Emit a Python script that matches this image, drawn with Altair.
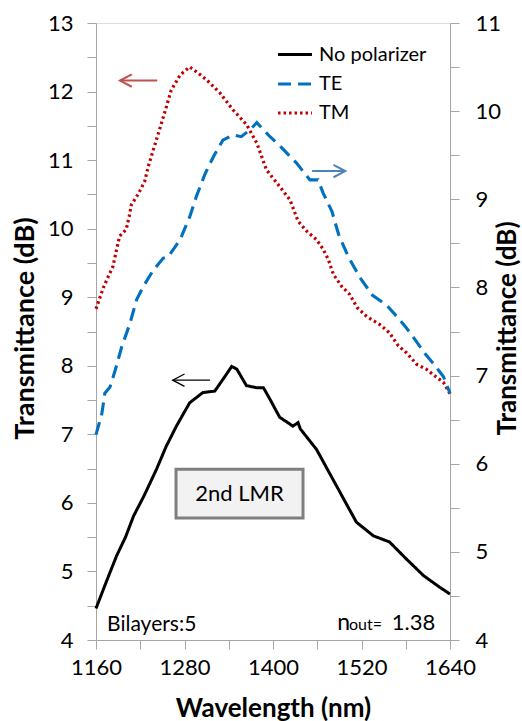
import altair as alt
import pandas as pd

# ---- data ----
wl_np = [1160, 1174, 1188, 1200, 1211, 1225, 1242, 1255, 1269, 1287, 1305, 1321, 1332, 1344,
         1351, 1364, 1378, 1387, 1396, 1409, 1427, 1434, 1437, 1459, 1486, 1513, 1536, 1558,
         1581, 1604, 1613, 1626, 1640]
val_np = [4.46, 4.85, 5.23, 5.50, 5.81, 6.10, 6.49, 6.82, 7.12, 7.46, 7.61, 7.63, 7.80, 7.99,
          7.95, 7.71, 7.68, 7.68, 7.51, 7.25, 7.12, 7.17, 7.08, 6.78, 6.25, 5.72, 5.52, 5.43,
          5.18, 4.94, 4.87, 4.77, 4.67]

wl_tm = [1160, 1170, 1177, 1183, 1188, 1192, 1201, 1205, 1208, 1217, 1226, 1231, 1242, 1253,
         1262, 1274, 1287, 1296, 1310, 1328, 1346, 1364, 1378, 1391, 1405, 1423, 1434, 1446,
         1459, 1468, 1475, 1482, 1493, 1504, 1514, 1527, 1545, 1558, 1570, 1581, 1595, 1608,
         1622, 1631, 1640]
val_tm = [8.83, 9.14, 9.31, 9.45, 9.70, 9.89, 9.99, 10.18, 10.35, 10.50, 10.69, 10.91, 11.30, 11.69,
          12.02, 12.24, 12.36, 12.29, 12.17, 11.98, 11.73, 11.52, 11.25, 10.86, 10.67, 10.42, 10.11, 9.96,
          9.84, 9.70, 9.55, 9.33, 9.16, 9.04, 8.85, 8.72, 8.60, 8.48, 8.29, 8.19, 8.02, 7.95,
          7.83, 7.76, 7.59]

wl_te = [1160, 1168, 1172, 1179, 1186, 1195, 1206, 1215, 1224, 1238, 1251, 1258, 1274, 1287,
         1296, 1308, 1319, 1332, 1346, 1357, 1369, 1378, 1396, 1410, 1432, 1450, 1461, 1468,
         1480, 1489, 1502, 1518, 1535, 1554, 1569, 1581, 1595, 1606, 1617, 1631, 1640]
val_te = [6.33, 6.57, 6.80, 6.87, 7.06, 7.33, 7.59, 7.86, 8.01, 8.20, 8.33, 8.35, 8.54, 8.80,
          9.03, 9.29, 9.48, 9.67, 9.73, 9.71, 9.79, 9.87, 9.71, 9.60, 9.41, 9.22, 9.22, 9.07,
          8.86, 8.60, 8.35, 8.11, 7.91, 7.80, 7.66, 7.54, 7.38, 7.25, 7.14, 6.99, 6.80]

series_names = ["No polarizer", "TE", "TM"]
series_colors = ["#000000", "#0070C0", "#C00000"]
series_dash = [[1, 0], [13, 7], [2.5, 3]]
series_width = [3, 3.2, 2.6]

x_ticks = list(range(1160, 1641, 60))
y_left_ticks = [4 + 0.5 * i for i in range(19)]
y_right_ticks = [4 + 0.5 * i for i in range(15)]

# annotations (data coordinates on the left axis)
arrow_tip = [1192.5, 1498.0, 1264.0]
arrow_tail = [1243.0, 1453.0, 1314.6]
arrow_val = [12.16, 10.84, 7.79]
arrow_colors = ["#C0504D", "#4F81BD", "#000000"]
arrow_widths = [2.0, 2.0, 1.3]

box_wl = [1268.5, 1440.7]
box_val = [5.78, 6.49]
box_label = "2nd LMR"

note_wl = [1175, 1487, 1503, 1561]
note_val = [4.13, 4.14, 4.14, 4.14]
note_text = ["Bilayers:5", "n", "out=", "1.38"]
note_size = [21, 23, 16, 22]

FONT = "Lato"
GREY = "#A6A6A6"
INT_LABEL = "datum.value % 1 == 0 ? '' + datum.value : ''"

# ---- tables ----
left_df = pd.concat([
    pd.DataFrame({"wl": wl_np, "val": val_np, "series": "No polarizer"}),
    pd.DataFrame({"wl": wl_tm, "val": val_tm, "series": "TM"}),
])
right_df = pd.DataFrame({"wl": wl_te, "val": val_te, "series": "TE"})

x_scale = alt.Scale(domain=[1160, 1640], nice=False, zero=False)
yl_scale = alt.Scale(domain=[4, 13], nice=False, zero=False)
yr_scale = alt.Scale(domain=[4, 11], nice=False, zero=False)


def make_legend():
    return alt.Legend(title=None, orient="none", legendX=180, legendY=13,
                      symbolType="stroke", symbolSize=1150, symbolStrokeWidth=2.6,
                      labelFont=FONT, labelFontSize=20, labelColor="#000000",
                      labelOffset=5, rowPadding=-2)


color_enc = alt.Color("series:N", scale=alt.Scale(domain=series_names, range=series_colors),
                      legend=make_legend())
dash_enc = alt.StrokeDash("series:N", scale=alt.Scale(domain=series_names, range=series_dash),
                          legend=make_legend())
width_enc = alt.StrokeWidth("series:N", scale=alt.Scale(domain=series_names, range=series_width),
                            legend=None)

x_axis = alt.Axis(values=x_ticks, labelExpr="(datum.value - 1160) % 120 == 0 ? '' + datum.value : ''",
                  title="Wavelength (nm)", grid=False, tickSize=9, tickColor=GREY,
                  domainColor=GREY, labelFont=FONT, labelFontSize=22, labelColor="#000000",
                  labelPadding=8, labelOverlap=False, labelFlush=False, labelBound=False,
                  titleFont=FONT, titleFontSize=26,
                  titleFontWeight="bold", titleColor="#000000", titleX=177, titleY=68,
                  titleBaseline="middle", titleAlign="center")

yl_axis = alt.Axis(values=y_left_ticks, labelExpr=INT_LABEL,
                   title="Transmittance (dB)", grid=False, tickSize=9, tickColor=GREY,
                   domainColor=GREY, labelFont=FONT, labelFontSize=22, labelColor="#000000",
                   labelPadding=14, labelOverlap=False, labelFlush=False, titleFont=FONT,
                   titleFontSize=27,
                   titleFontWeight="bold", titleColor="#000000", titleAngle=270,
                   titleX=-71, titleY=305, titleBaseline="middle", titleAlign="center")

yr_axis = alt.Axis(values=y_right_ticks, labelExpr=INT_LABEL,
                   orient="right", title="Transmittance (dB)", grid=False, tickSize=9,
                   tickColor=GREY, domainColor=GREY, labelFont=FONT, labelFontSize=22,
                   labelColor="#000000", labelPadding=16, labelOverlap=False, labelFlush=False,
                   titleFont=FONT,
                   titleFontSize=26, titleFontWeight="bold", titleColor="#000000",
                   titleAngle=270, titleX=57, titleY=305, titleBaseline="middle",
                   titleAlign="center")


def xenc(field="wl:Q"):
    return alt.X(field, scale=x_scale, axis=x_axis)


left_lines = alt.Chart(left_df).mark_line().encode(
    x=xenc(),
    y=alt.Y("val:Q", scale=yl_scale, axis=yl_axis),
    color=color_enc, strokeDash=dash_enc, strokeWidth=width_enc,
    detail="series:N",
)

right_lines = alt.Chart(right_df).mark_line().encode(
    x=xenc(),
    y=alt.Y("val:Q", scale=yr_scale, axis=yr_axis),
    color=color_enc, strokeDash=dash_enc, strokeWidth=width_enc,
)

# arrows
arrow_layers = []
for i in range(len(arrow_tip)):
    tip, tail, v = arrow_tip[i], arrow_tail[i], arrow_val[i]
    back = 16.0 if tail > tip else -16.0
    rows = [
        {"wl": tail, "val": v, "part": "shaft", "o": 0},
        {"wl": tip, "val": v, "part": "shaft", "o": 1},
        {"wl": tip + back, "val": v + 0.09, "part": "head", "o": 0},
        {"wl": tip, "val": v, "part": "head", "o": 1},
        {"wl": tip + back, "val": v - 0.09, "part": "head", "o": 2},
    ]
    arrow_layers.append(
        alt.Chart(pd.DataFrame(rows)).mark_line(color=arrow_colors[i], strokeWidth=arrow_widths[i]).encode(
            x=xenc(),
            y=alt.Y("val:Q", scale=yl_scale, axis=None),
            detail="part:N", order="o:Q",
        )
    )

box = alt.Chart(pd.DataFrame({"wl": [box_wl[0]], "x2": [box_wl[1]],
                              "y1": [box_val[0]], "y2": [box_val[1]]})).mark_rect(
    fill="#F2F2F2", stroke="#7F7F7F", strokeWidth=3).encode(
    x=xenc(), x2="x2:Q",
    y=alt.Y("y1:Q", scale=yl_scale, axis=None), y2="y2:Q",
)

box_text = alt.Chart(pd.DataFrame({"wl": [sum(box_wl) / 2], "val": [sum(box_val) / 2],
                                   "t": [box_label]})).mark_text(
    font=FONT, fontSize=22, color="#000000", align="center", baseline="middle").encode(
    x=xenc(), y=alt.Y("val:Q", scale=yl_scale, axis=None),
    text="t:N",
)

note_layers = []
for i in range(len(note_text)):
    note_layers.append(
        alt.Chart(pd.DataFrame({"wl": [note_wl[i]], "val": [note_val[i]], "t": [note_text[i]]})).mark_text(
            font=FONT, fontSize=note_size[i], color="#000000", align="left",
            baseline="alphabetic").encode(
            x=xenc(), y=alt.Y("val:Q", scale=yl_scale, axis=None),
            text="t:N",
        )
    )

chart = alt.layer(left_lines, right_lines, *arrow_layers, box, box_text, *note_layers).resolve_scale(
    y="independent").properties(
    width=354, height=617,
    autosize=alt.AutoSizeParams(type="none"),
    padding={"left": 96, "top": 23, "right": 72, "bottom": 81},
).configure_view(stroke=GREY, strokeWidth=1).configure(background="white")

chart.save("out.html", embed_options={"renderer": "svg", "actions": False})
